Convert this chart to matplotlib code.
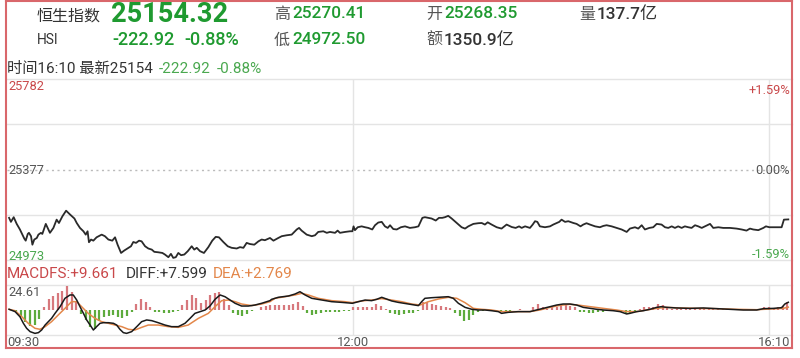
import matplotlib
matplotlib.use('Agg')
import matplotlib.pyplot as plt
from matplotlib.lines import Line2D

plt.rcParams['font.family'] = ['Roboto', 'Noto Sans CJK SC', 'DejaVu Sans']

# ---------------- data ----------------
prev_close = 25377.24
day_low = 24972.50
price_tick_labels = ['25782', '25377', '24973']
pct_tick_labels = ['+1.59%', '0.00%', '-1.59%']
time_ticks = [0, 150, 340]
time_tick_labels = ['09:30', '12:00', '16:10']
time_grid = [150, 330]
macd_max = 24.61

# trading minutes since 09:30 (lunch break removed)
price_t = [0.9, 1.7, 2.9, 4.2, 5.6, 7.5, 8.1, 9.0, 9.5, 10.4, 11.0, 11.8, 12.9, 13.6, 14.7,
           15.3, 16.8, 17.6, 18.6, 20.1, 21.5, 22.5, 24.0, 25.6, 27.3, 29.2, 30.2, 31.6, 33.1, 34.1,
           34.9, 35.5, 36.4, 37.4, 38.8, 41.0, 42.4, 43.9, 45.6, 46.8, 47.9, 49.4, 50.8, 52.6, 53.7,
           54.7, 55.9, 57.2, 58.3, 59.8, 61.2, 62.7, 63.8, 65.5, 67.3, 68.4, 69.9, 71.0, 72.0, 73.1,
           74.2, 75.4, 76.8, 78.3, 80.0, 81.1, 82.2, 83.6, 85.3, 87.2, 88.9, 90.4, 91.8, 93.7, 95.6,
           97.3, 99.5, 100.9, 102.4, 103.8, 105.2, 107.1, 108.9, 110.3, 111.7, 113.9,
           115.4, 117.5, 119.0, 121.1, 123.3, 125.5, 126.5, 127.6, 129.8, 132.0, 133.4, 134.8, 137.0,
           138.5, 139.9, 142.1, 143.2, 144.2, 146.4, 148.6, 149.6, 150.1, 150.7, 151.9, 153.6, 155.1,
           156.5, 158.2, 159.4, 160.8, 162.3, 163.7, 164.9, 165.9, 167.3, 168.8, 170.6, 172.4, 174.5,
           176.7, 178.2, 179.9, 181.0, 182.5, 183.9, 185.7, 187.1, 188.5, 189.7, 191.1, 192.6, 194.8,
           196.9, 198.4, 199.8, 202.0, 204.1, 205.6, 207.0, 208.2, 209.9, 212.1, 214.2, 216.4, 218.6,
           220.3, 221.8, 222.9, 224.4, 226.5,
           227.7, 228.7, 229.7, 230.8, 233.0, 235.2, 236.6, 238.1, 239.2, 240.2, 241.7, 243.1, 245.3,
           246.7, 248.4, 249.6, 251.0, 252.5, 254.7, 256.8, 258.3, 259.7, 261.9, 264.0, 266.2, 268.4,
           269.8, 272.0, 273.4, 274.9, 276.3, 278.2, 279.9, 281.4, 283.5, 285.0, 286.4, 287.9, 289.3,
           290.7, 292.2, 293.6, 295.1, 296.5, 298.0, 299.4, 300.9, 302.3, 304.5, 305.9, 308.1, 310.2,
           313.1, 316.0, 318.2, 320.3, 321.8, 323.2, 325.4, 327.6, 328.7, 330.2, 332.6, 335.5, 336.5,
           338.4]
price_v = [25161, 25143, 25164, 25134, 25109, 25068, 25059, 25089, 25094, 25079, 25041, 25064, 25071,
           25086, 25094, 25089, 25134, 25116, 25094, 25116, 25153, 25138, 25168, 25193, 25176, 25158,
           25138, 25116, 25101, 25086, 25101, 25052, 25064, 25059, 25074, 25086, 25079, 25064, 25059,
           25074, 25041, 25004, 25015, 25027, 25034, 25053, 25049, 25059, 25056, 25034, 25024, 25019,
           25009, 25007, 25004, 24997, 24985, 25000, 24982, 24985, 25004, 24994, 24997, 25012, 25034,
           25019, 25027, 25012, 25004, 25030, 25059, 25076, 25074, 25053, 25034, 25027, 25024, 25030,
           25027, 25049, 25044, 25041, 25056, 25064, 25061, 25071,
           25059, 25071, 25079, 25083, 25086, 25109, 25116, 25104, 25086, 25079, 25083, 25098, 25101,
           25094, 25098, 25094, 25104, 25094, 25098, 25101, 25101, 25123, 25106, 25119, 25123, 25119,
           25116, 25109, 25128, 25140, 25143, 25123, 25116, 25128, 25111, 25109, 25119, 25123, 25116,
           25119, 25123, 25161, 25164, 25161, 25158, 25149, 25161, 25161, 25164, 25170, 25158, 25138,
           25119, 25113, 25123, 25134, 25137, 25138, 25131, 25141, 25131, 25119, 25113, 25131, 25120,
           25116, 25123, 25116, 25123, 25116,
           25131, 25146, 25143, 25123, 25119, 25123, 25131, 25138, 25143, 25153, 25143, 25146, 25138,
           25134, 25123, 25131, 25137, 25131, 25123, 25119, 25125, 25128, 25123, 25116, 25109, 25098,
           25113, 25119, 25113, 25128, 25109, 25116, 25119, 25134, 25131, 25119, 25116, 25123, 25116,
           25123, 25116, 25123, 25119, 25116, 25128, 25123, 25116, 25123, 25134, 25116, 25119, 25116,
           25116, 25113, 25109, 25104, 25113, 25109, 25106, 25116, 25123, 25119, 25119, 25119, 25153,
           25154]

diff_t = [0.9, 3.5, 5.6, 7.1, 8.5, 10.0, 12.1, 13.6, 15.0, 16.5, 17.9, 19.3, 20.8, 23.0, 25.1,
          27.3, 28.7, 30.2, 31.6, 33.1, 34.5, 36.0, 37.4, 38.8, 40.3, 41.7, 43.9, 46.1, 47.5, 48.9,
          50.4, 51.8, 54.0, 56.2, 58.3, 60.5, 62.7, 65.5, 68.4, 71.3, 74.2, 77.1, 79.3, 81.4, 83.6,
          85.8, 87.9, 90.1, 92.3, 94.4, 96.6, 98.8, 101.6, 104.5, 107.4, 110.3, 113.9, 114.6, 117.5,
          121.9, 124.7, 126.9, 129.1, 132.0, 136.3, 140.6, 145.0, 149.6, 152.2, 155.1, 157.9, 160.1,
          162.3, 164.4, 166.6, 169.5, 173.8, 178.2, 179.6, 181.0, 183.9, 186.8, 191.1, 193.3, 195.5,
          198.4, 201.3, 204.1, 207.0, 209.9, 212.8, 214.2, 217.1, 221.5, 226.5, 229.4, 232.3, 235.2,
          238.1, 240.9, 243.8, 246.7, 249.6, 252.5, 255.4, 258.3, 262.6, 265.5, 268.4, 269.8, 272.7,
          275.6, 278.5, 281.4, 283.5, 285.7, 290.0, 295.8, 301.6, 307.4, 313.1, 318.9, 324.7, 327.6,
          331.9, 335.5, 336.9, 338.4]
diff_v = [0.7, -1.6, -6.6, -13.1, -18.0, -21.3, -23.0, -22.3, -19.7, -14.8, -11.5, -8.2, -3.3, 3.3,
          11.5, 14.8, 14.8, 9.8, 3.3, -3.3, -9.8, -14.8, -19.7, -16.4, -13.1, -12.5, -12.5, -13.1,
          -14.8, -19.0, -22.3, -23.0, -21.3, -16.4, -11.5, -9.8, -10.5, -12.5, -14.8, -16.4, -16.4,
          -13.1, -8.2, -3.3, -1.6, 0.0, 3.9, 10.5, 14.8, 13.1, 9.8, 6.6, 3.9, 3.9, 4.9, 6.6, 9.2, 10.5,
          12.5, 13.8, 15.7, 18.0, 14.8, 11.5, 9.8, 8.2, 7.5, 6.6, 8.2, 9.8, 9.2, 10.5, 12.5, 10.8, 8.9,
          7.5, 5.9, 4.3, 8.2, 11.5, 12.1, 12.5, 13.1, 11.5, 6.6, 2.6, 0.7, 0.0, 0.0, -0.7, -1.6, -3.3,
          -2.3, -1.6, -1.6, 0.0, 1.6, 3.3, 4.9, 5.9, 5.9, 4.9, 2.6, 1.6, 0.7, 0.0, -0.7, -1.6, -3.9,
          -3.3, -1.6, -0.7, 0.7, 2.6, 3.3, 2.6, 2.0, 1.6, 2.0, 1.3, 0.7, 0.0, 0.0, 1.3, 1.6, 2.3, 5.9,
          7.6]

dea_t = [0.9, 3.5, 6.4, 9.2, 12.1, 14.3, 16.5, 19.3, 22.2, 25.1, 28.0, 30.2, 32.3, 35.2, 38.1,
         41.0, 43.9, 46.8, 49.7, 52.6, 55.4, 58.3, 61.2, 65.5, 69.9, 74.2, 78.5, 82.9, 87.2, 90.1,
         93.0, 95.9, 98.8, 101.6, 106.0, 110.3, 113.9, 116.1, 120.4, 124.7, 127.6, 130.5, 134.8,
         140.6, 146.4, 149.6, 153.6, 157.9, 162.3, 166.6, 170.9, 175.3, 178.9, 182.5, 186.8, 191.1,
         194.8, 198.4, 202.0, 205.6, 209.9, 214.2, 218.6, 226.5, 230.8, 235.2, 239.5, 243.8, 248.2,
         252.5, 258.3, 264.0, 268.4, 272.7, 277.0, 281.4, 285.7, 291.5, 298.7, 307.4, 316.0, 324.7,
         330.5, 336.2, 338.4]
dea_v = [0.7, -0.7, -6.6, -13.1, -18.0, -19.0, -16.4, -11.5, -4.9, 1.6, 8.2, 8.2, 3.3, -3.3, -8.2,
         -11.5, -13.1, -14.8, -16.4, -19.0, -19.7, -17.1, -14.8, -14.8, -16.4, -17.1, -14.8, -8.2,
         -3.3, 3.3, 9.2, 9.8, 8.2, 5.9, 4.3, 5.9, 8.2, 11.5, 13.1, 14.8, 16.4, 14.8, 11.5, 9.2, 8.2,
         7.2, 8.9, 9.8, 11.2, 9.8, 8.2, 5.9, 4.9, 8.2, 10.8, 12.5, 11.5, 7.2, 1.6, 0.7, 0.0, -1.6,
         -1.6, -1.6, 0.0, 2.6, 4.6, 5.6, 4.6, 3.3, 1.6, 0.0, -1.6, -1.6, 0.0, 1.6, 2.6, 2.0, 1.6,
         1.3, 0.7, 0.3, 1.0, 1.6, 2.8]

macd_t = list(range(0, 341, 2))
macd_v = [0, -0.5, -1.5, -7, -12.3, -15.3, -15, -8.8, 3, 10.5,
          13.5, 16.5, 19, 24, 18, 7.5, -4, -10, -16.5, -19,
          -11, -7, -5.5, -5, -6.5, -8, -6, -1.6, 5.5, 11,
          7.5, 3, -1.6, -2.2, -2.6, -2.5, -2.3, -1, 5, 9.5,
          14.8, 11.5, 7, 10, 14.5, 17, 17.5, 11, 4.5, -2.5,
          -5.2, -5.7, -3.5, -0.8, 0.3, 3.3, 3.5, 4.5, 4.9, 4.9,
          5, 5, 6, 8.2, 4, -3, -4.5, -4, -3, -2.3,
          -2, -1.8, -1.5, -1.3, -1.0, 2.5, 3.3, 3.3, 3.0, 3.3,
          5.5, 4, 1, -3, -4.2, -4.9, -4, -3.3, -2.5, -1.2,
          7.5, 7.5, 5.5, 4.5, 3.9, 3, 2.4, -3.3, -6.2, -11,
          -9.5, -4.9, -1.6, -0.5, 0.3, -0.3, -1.2, -1.6, -1.6, -0.8,
          0.4, 0.5, -0.4, 0.3, 3.3, 5.5, 3, 1.2, 2.5, 3.3,
          4.5, 4.9, 3.5, 3, -1.6, -2, -2.6, -2.5, -2.3, -1.5,
          -0.8, -0.3, 0.2, -2.3, -3.3, -2.5, -0.5, 0.5, 2.6, 3,
          3.3, 5.9, 4.5, 1.5, 1, 0.8, 0.7, 0.7, 0.6, 0.8,
          0.7, 0.6, 0.5, 0.8, 0.7, 0.6, 0.5, 0.6, 0.7, 0.6,
          0.5, 0.6, 0.7, 0.8, 2.6, 2.6, 2.4, 2.5, 3.9, 8.2,
          9.7]

# ---------------- style ----------------
W, H = 800, 358
GREEN = '#1f9a30'
LGREEN = '#4aa84f'
RED = '#c9484a'
GRAY = '#555555'
DARK = '#333333'
GRID = '#e4e4e4'
FRAME = '#d9676b'
HRED = '#d7787d'
HGREEN = '#5dab3d'
ORANGE = '#e3874a'

fig = plt.figure(figsize=(W / 100, H / 100), dpi=100)
fig.patch.set_facecolor('white')


def fx(x):
    return x / W


def fy(y):
    return 1 - y / H


def T(x, y, s, color, size, ha='left', weight='normal'):
    fig.text(fx(x), fy(y), s, color=color, fontsize=size, ha=ha, va='center', weight=weight)


# ---------------- price panel ----------------
hi = 2 * prev_close - day_low
lo = day_low
ax = fig.add_axes([fx(7), fy(260), fx(792) - fx(7), fy(79) - fy(260)])
ax.set_xlim(0, 340)
ax.set_ylim(lo, hi)
ax.axis('off')
for lvl in [lo, (lo + prev_close) / 2, (prev_close + hi) / 2, hi]:
    ax.axhline(lvl, color=GRID, lw=1, clip_on=False, zorder=0)
ax.axhline(prev_close, color='#bbbbbb', lw=1, ls=(0, (1.5, 2.5)), zorder=0)
for t in time_grid:
    ax.axvline(t, color=GRID, lw=1, zorder=0)
ax.plot(price_t, price_v, color='#2a2a2a', lw=1.3, zorder=3)

# ---------------- MACD panel ----------------
mx = fig.add_axes([fx(7), fy(335), fx(792) - fx(7), fy(285) - fy(335)])
mx.set_xlim(0, 340)
mx.set_ylim(-macd_max, macd_max)
mx.axis('off')
mx.axhline(macd_max, color=GRID, lw=1, clip_on=False, zorder=0)
mx.axhline(-macd_max, color=GRID, lw=1, clip_on=False, zorder=0)
for t in time_grid:
    mx.axvline(t, color=GRID, lw=1, zorder=0)
cols = [HRED if v >= 0 else HGREEN for v in macd_v]
mx.vlines(macd_t, 0, macd_v, colors=cols, lw=1.6, zorder=1)
mx.plot(dea_t, dea_v, color=ORANGE, lw=1.1, zorder=2)
mx.plot(diff_t, diff_v, color='#1a1a1a', lw=1.1, zorder=3)

# ---------------- frame ----------------
for (x0, y0, x1, y1) in [(6, 1, 792, 1), (6, 1, 6, 348), (792, 1, 792, 348), (6, 348, 792, 348)]:
    fig.add_artist(Line2D([fx(x0), fx(x1)], [fy(y0), fy(y1)], color=FRAME, lw=1.5,
                          transform=fig.transFigure))

# ---------------- header texts ----------------
T(37, 16, '恒生指数', DARK, 11.5)
T(111, 15, '25154.32', GREEN, 19.5, weight='bold')
T(274, 14, '高', GRAY, 11.5)
T(292, 14, '25270.41', GREEN, 12.4, weight='medium')
T(426, 14, '开', GRAY, 11.5)
T(444, 14, '25268.35', GREEN, 12.4, weight='medium')
T(579, 14, '量', GRAY, 11.5)
T(597, 14, '137.7亿', DARK, 12.4, weight='medium')

T(37, 40, 'HSI', DARK, 10)
T(112, 40, '-222.92', GREEN, 13, weight='medium')
T(184, 40, '-0.88%', GREEN, 13, weight='medium')
T(274, 40, '低', GRAY, 11.5)
T(292, 40, '24972.50', GREEN, 12.4, weight='medium')
T(426, 40, '额', GRAY, 11.5)
T(444, 40, '1350.9亿', DARK, 12.4, weight='medium')

T(7, 69, '时间16:10 最新25154', DARK, 11)
T(159, 69, '-222.92', LGREEN, 11)
T(217, 69, '-0.88%', LGREEN, 11)

# axis labels of price panel
T(8, 87, price_tick_labels[0], RED, 9.3)
T(8, 170, price_tick_labels[1], GRAY, 9.3)
T(8, 256, price_tick_labels[2], LGREEN, 9.3)
T(790, 90, pct_tick_labels[0], RED, 9.3, ha='right')
T(790, 171, pct_tick_labels[1], GRAY, 9.3, ha='right')
T(790, 254, pct_tick_labels[2], LGREEN, 9.3, ha='right')

# MACD legend
T(7, 274, 'MACDFS:+9.661', RED, 11)
T(126, 274, 'DIFF:+7.599', DARK, 11)
T(213, 274, 'DEA:+2.769', ORANGE, 11)
T(8, 292, f'{macd_max:.2f}', GRAY, 9.3)

# time labels
for t, lab in zip(time_ticks, time_tick_labels):
    xp = 7 + t / 340 * 785
    ha = 'left' if t == 0 else ('right' if t == 340 else 'center')
    if t == 340:
        xp = 790
    T(xp, 342, lab, GRAY, 9.3, ha=ha)

fig.savefig('out.png', dpi=100, facecolor='white')
